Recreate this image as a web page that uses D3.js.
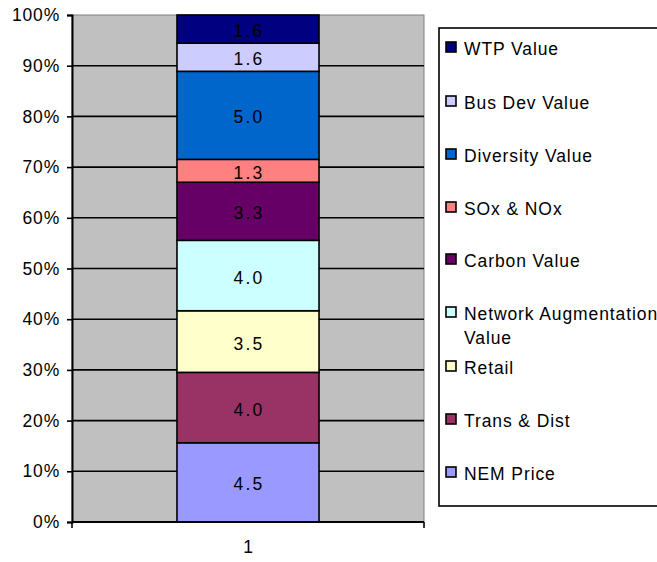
<!DOCTYPE html>
<html>
<head>
<meta charset="utf-8">
<script src="https://cdn.jsdelivr.net/npm/d3@7"></script>
<style>
  html, body { margin: 0; padding: 0; background: #fff; }
  svg { display: block; font-family: "Liberation Sans", Arial, sans-serif; }
</style>
</head>
<body>
<svg id="chart" width="657" height="562"></svg>
<script>
// Value components, stacked bottom to top
const categories = ["1"];
const seriesNames = ["NEM Price", "Trans & Dist", "Retail", "Network Augmentation Value",
  "Carbon Value", "SOx & NOx", "Diversity Value", "Bus Dev Value", "WTP Value"];
const seriesValues = [4.5, 4.0, 3.5, 4.0, 3.3, 1.3, 5.0, 1.6, 1.6];
const seriesColors = ["#9999FF", "#993366", "#FFFFCC", "#CCFFFF", "#660066",
  "#FF8080", "#0066CC", "#CCCCFF", "#000080"];
const yTicks = [0, 0.1, 0.2, 0.3, 0.4, 0.5, 0.6, 0.7, 0.8, 0.9, 1.0];

const FONT = "'Liberation Sans', Arial, sans-serif";
const svg = d3.select("#chart");
const plot = { left: 72, right: 424, top: 15, bottom: 522 };

const x = d3.scaleBand().domain(categories).range([plot.left, plot.right])
  .paddingInner(0.425).paddingOuter(0.425);
const y = d3.scaleLinear().domain([0, 1]).range([plot.bottom, plot.top]);

const row = { cat: categories[0] };
seriesNames.forEach((n, i) => row[n] = seriesValues[i]);
const stacked = d3.stack().keys(seriesNames).offset(d3.stackOffsetExpand)([row]);

// plot background
svg.append("rect")
  .attr("x", plot.left).attr("y", plot.top)
  .attr("width", plot.right - plot.left).attr("height", plot.bottom - plot.top)
  .attr("fill", "#C0C0C0").attr("stroke", "#808080").attr("stroke-width", 1);

// horizontal gridlines
svg.append("g").selectAll("line")
  .data(yTicks.filter(t => t > 0 && t < 1))
  .join("line")
  .attr("x1", plot.left).attr("x2", plot.right)
  .attr("y1", d => y(d)).attr("y2", d => y(d))
  .attr("stroke", "#000").attr("stroke-width", 1.6);

// stacked segments
const segs = svg.append("g").selectAll("g")
  .data(stacked)
  .join("g");

segs.append("rect")
  .attr("x", x(categories[0]))
  .attr("width", x.bandwidth())
  .attr("y", d => y(d[0][1]))
  .attr("height", d => y(d[0][0]) - y(d[0][1]))
  .attr("fill", (d, i) => seriesColors[i])
  .attr("stroke", "#000").attr("stroke-width", 1.6);

segs.append("text")
  .attr("x", x(categories[0]) + x.bandwidth() / 2 + 1)
  .attr("y", d => (y(d[0][0]) + y(d[0][1])) / 2 + 2)
  .attr("text-anchor", "middle")
  .attr("dominant-baseline", "central")
  .attr("font-family", FONT)
  .attr("font-size", 17.5)
  .attr("letter-spacing", 2.2)
  .attr("fill", "#000")
  .text((d, i) => d3.format(".1f")(seriesValues[i]));

// y axis
const yAxis = d3.axisLeft(y).tickValues(yTicks).tickFormat(d3.format(".0%"))
  .tickSize(5).tickPadding(7);
const gy = svg.append("g").attr("transform", `translate(${plot.left},0)`).call(yAxis);
gy.select(".domain").attr("stroke", "#000").attr("stroke-width", 2);
gy.selectAll(".tick line").attr("stroke", "#000").attr("stroke-width", 1.6);
gy.selectAll(".tick text").attr("font-size", 17.5).attr("fill", "#000")
  .attr("font-family", FONT).attr("letter-spacing", 0.8);

// x axis
const gx = svg.append("g").attr("transform", `translate(0,${plot.bottom})`);
gx.append("line").attr("x1", plot.left).attr("x2", plot.right)
  .attr("stroke", "#000").attr("stroke-width", 2);
gx.selectAll(".edge").data([plot.left, plot.right]).join("line").attr("class", "edge")
  .attr("x1", d => d).attr("x2", d => d).attr("y1", 0).attr("y2", 6)
  .attr("stroke", "#000").attr("stroke-width", 1.6);
gx.selectAll(".cat").data(categories).join("text").attr("class", "cat")
  .attr("x", d => x(d) + x.bandwidth() / 2).attr("y", 31)
  .attr("text-anchor", "middle").attr("font-size", 17.5)
  .attr("font-family", FONT).text(d => d);

// legend
const legend = svg.append("g");
legend.append("rect")
  .attr("x", 439).attr("y", 28).attr("width", 230).attr("height", 478)
  .attr("fill", "#fff").attr("stroke", "#000").attr("stroke-width", 1.6);

const legendOrder = d3.range(seriesNames.length).reverse();
const legendY = [48, 102, 155, 208, 260, 313, 367, 420, 473];
legendOrder.forEach((si, k) => {
  const cy = legendY[k];
  legend.append("rect")
    .attr("x", 446).attr("y", cy - 6).attr("width", 10).attr("height", 10)
    .attr("fill", seriesColors[si]).attr("stroke", "#000").attr("stroke-width", 1.6);
  const name = seriesNames[si];
  const lines = name === "Network Augmentation Value" ? ["Network Augmentation", "Value"] : [name];
  const t = legend.append("text")
    .attr("x", 464).attr("y", cy + 1)
    .attr("dominant-baseline", "central")
    .attr("font-family", FONT)
    .attr("font-size", 17.5).attr("letter-spacing", 0.9).attr("fill", "#000");
  lines.forEach((ln, j) => {
    t.append("tspan").attr("x", 464).attr("dy", j === 0 ? 0 : 24).text(ln);
  });
});
</script>
</body>
</html>
